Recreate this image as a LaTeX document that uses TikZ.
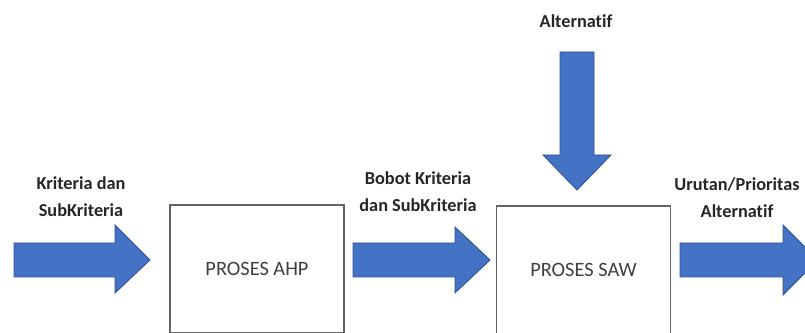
\documentclass[tikz,border=0pt]{standalone}
\usepackage{fontspec}
\setmainfont[Ligatures=NoCommon]{Carlito}
\usepackage{tikz}
\usetikzlibrary{calc,positioning}
\usepackage{xcolor}
\definecolor{myblue}{RGB}{68,114,196}
\definecolor{myedge}{RGB}{47,82,143}
\definecolor{mygray}{RGB}{100,100,100}

\tikzset{
  procbox/.style={draw=mygray, line width=1.2pt, fill=white, minimum width=4.35cm, minimum height=3.2cm, font=\fontsize{14.5}{17}\selectfont, text=black!75},
  fatarrow/.style={fill=myblue, draw=myedge, line width=0.6pt, line join=miter},
  lbl/.style={font=\bfseries\fontsize{13}{19}\selectfont, align=center, text=black!85}
}

\begin{document}
\begin{tikzpicture}[x=0.025cm,y=-0.025cm]
  \useasboundingbox (0,0) rectangle (805,333);

  % proses
  \node[procbox] (ahp) at (257,269) {PROSES AHP};
  \node[procbox] (saw) at (583.5,270) {PROSES SAW};

  % labels
  \node[lbl] (krit) at (81,197) {Kriteria dan\\SubKriteria};
  \node[lbl] (bobot) at (418,192) {Bobot Kriteria\\dan SubKriteria};
  \node[lbl] (alt) at (576,21) {Alternatif};
  \node[lbl] (urut) at (737,198) {Urutan/Prioritas\\Alternatif};

  % arrows
  \draw[fatarrow] (14,243)--(115,243)--(115,225)--(150,260)--(115,293)--(115,277)--(14,277)--cycle;
  \draw[fatarrow] (353,243)--(455,243)--(455,227)--(490,260)--(455,293)--(455,277)--(353,277)--cycle;
  \draw[fatarrow] (560,52)--(594,52)--(594,155)--(611,155)--(577,190)--(543,155)--(560,155)--cycle;
  \draw[fatarrow] (680,243)--(783,243)--(783,225)--(818,260)--(783,295)--(783,277)--(680,277)--cycle;
\end{tikzpicture}
\end{document}
